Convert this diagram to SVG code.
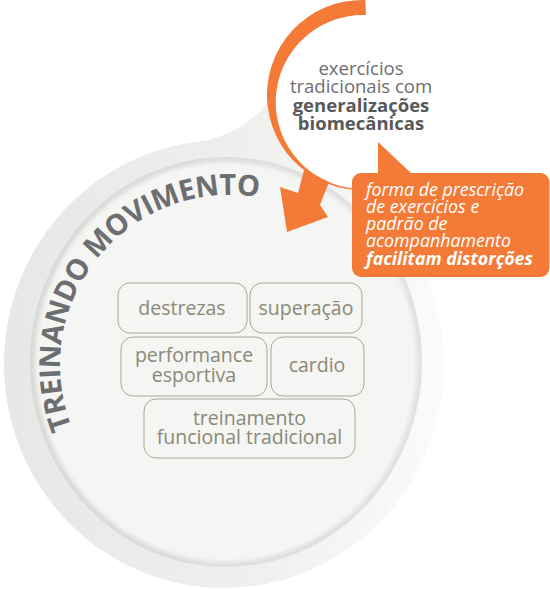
<svg xmlns="http://www.w3.org/2000/svg" width="550" height="589" viewBox="0 0 550 589">
  <defs>
    <linearGradient id="outerG" gradientUnits="userSpaceOnUse" x1="4" y1="0" x2="445" y2="0">
      <stop offset="0" stop-color="#e7e7e5"/>
      <stop offset="0.55" stop-color="#efefed"/>
      <stop offset="1" stop-color="#fbfbfb"/>
    </linearGradient>
    <linearGradient id="ringG" gradientUnits="userSpaceOnUse" x1="30" y1="0" x2="422" y2="0">
      <stop offset="0" stop-color="#d8d8d6"/>
      <stop offset="1" stop-color="#e1e1e1"/>
    </linearGradient>
    <filter id="soft" x="-5%" y="-5%" width="110%" height="110%">
      <feGaussianBlur stdDeviation="2.2"/>
    </filter>
    <path id="arcPath" d="M72,427.5 A170,170 0 0 1 317,218.8"/>
  </defs>
  <style>
    .node rect { fill: none; stroke: #a9a898; stroke-width: 1; }
    .node text { font-family: "Open Sans", "Liberation Sans", sans-serif; font-size: 19.5px; fill: #8a8977; text-anchor: middle; }
    .orange { fill: #f47b37; }
    .ctext { font-family: "Open Sans", "Liberation Sans", sans-serif; font-size: 18.5px; text-anchor: middle; }
    .btext { font-family: "Open Sans", "Liberation Sans", sans-serif; font-size: 17.8px; font-style: italic; fill: #ffffff; }
  </style>

  <!-- big circle background -->
  <g id="big-circle">
    <ellipse cx="224" cy="364" rx="220" ry="224" fill="url(#outerG)"/>
    <path d="M170,147 Q240,140 267,103 L305,170 L240,175 Z" fill="url(#outerG)"/>
    <ellipse cx="226" cy="362" rx="196" ry="205" fill="url(#ringG)"/>
    <ellipse cx="226" cy="362" rx="191" ry="200" fill="#f5f5f3" filter="url(#soft)"/>
    <text font-family="'Open Sans', 'Liberation Sans', sans-serif" font-weight="bold" font-size="29" fill="#6d6e71">
      <textPath href="#arcPath" textLength="360" lengthAdjust="spacing">TREINANDO MOVIMENTO</textPath>
    </text>
  </g>

  <!-- small circle -->
  <g id="small-circle">
    <circle cx="362" cy="95" r="95" fill="#ffffff"/>
    <path class="orange" d="M365.3,0.1 A95,95 0 1 0 386.6,186.8 L385.5,186 A87,87 0 1 1 366,15.1 Z"/>
    <text class="ctext" fill="#6d6e71" x="361" y="75">exercícios</text>
    <text class="ctext" fill="#6d6e71" x="361" y="93">tradicionais com</text>
    <text class="ctext" fill="#58595b" font-weight="bold" x="361" y="112">generalizações</text>
    <text class="ctext" fill="#58595b" font-weight="bold" x="361" y="130">biomecânicas</text>
  </g>

  <!-- connectors -->
  <g id="connectors">
    <polygon class="orange" points="304,170 329,182 320,205 328,217 287,232 280,187 298,193"/>
  </g>

  <!-- orange callout -->
  <g id="callout">
    <polygon class="orange" points="378,142 412,174 378,174"/>
    <rect class="orange" x="352" y="173" width="197.5" height="104" rx="9"/>
    <text class="btext" x="366" y="196">forma de prescrição</text>
    <text class="btext" x="366" y="213">de exercícios e</text>
    <text class="btext" x="366" y="230">padrão de</text>
    <text class="btext" x="366" y="247">acompanhamento</text>
    <text class="btext" x="366" y="265" font-weight="bold">facilitam distorções</text>
  </g>

  <g id="node-destrezas" class="node">
    <rect x="118" y="283" width="129" height="50" rx="12"/>
    <text x="182" y="315">destrezas</text>
  </g>
  <g id="node-superacao" class="node">
    <rect x="250" y="283" width="112" height="50" rx="12"/>
    <text x="306" y="315">superação</text>
  </g>
  <g id="node-performance" class="node">
    <rect x="121" y="337" width="146" height="59" rx="12"/>
    <text x="194" y="362">performance</text>
    <text x="194" y="382">esportiva</text>
  </g>
  <g id="node-cardio" class="node">
    <rect x="271" y="337" width="93" height="59" rx="12"/>
    <text x="317" y="372">cardio</text>
  </g>
  <g id="node-treinamento" class="node">
    <rect x="144" y="399" width="211" height="59" rx="12"/>
    <text x="249.5" y="425">treinamento</text>
    <text x="249.5" y="444">funcional tradicional</text>
  </g>
</svg>
